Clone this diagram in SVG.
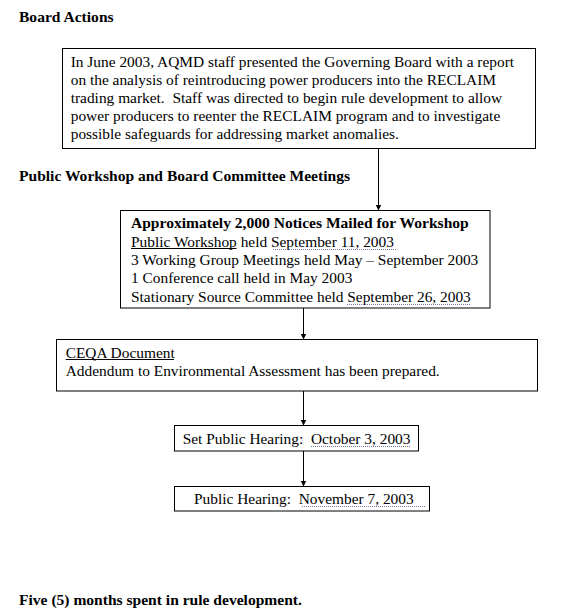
<svg xmlns="http://www.w3.org/2000/svg" width="563" height="613" viewBox="0 0 563 613">
<style>
text{font-family:"Liberation Serif","Times New Roman",serif;font-size:15.4px;fill:#000}
.b{font-weight:bold;font-size:15.55px}
.box{fill:#fff;stroke:#000;stroke-width:1}
.con{stroke:#000;stroke-width:1;fill:none}
.dot{stroke:#7878a8;stroke-width:1;stroke-dasharray:1 1;fill:none}
.ul{stroke:#000;stroke-width:1}
</style>
<defs>
<marker id="ah" markerUnits="userSpaceOnUse" markerWidth="7" markerHeight="7" refX="6" refY="3.5" orient="auto">
<path d="M0,0.5 L6,3.5 L0,6.5 z" fill="#000"/>
</marker>
</defs>
<rect width="563" height="613" fill="#fff"/>
<g id="headings">
<text class="b" x="19" y="22">Board Actions</text>
<text class="b" x="19" y="181">Public Workshop and Board Committee Meetings</text>
<text class="b" x="19" y="605">Five (5) months spent in rule development.</text>
</g>
<g id="connectors">
<line class="con" x1="378.5" y1="148.5" x2="378.5" y2="210.5" marker-end="url(#ah)"/>
<line class="con" x1="303.5" y1="308" x2="303.5" y2="339.5" marker-end="url(#ah)"/>
<line class="con" x1="303.5" y1="391" x2="303.5" y2="425.5" marker-end="url(#ah)"/>
<line class="con" x1="303.5" y1="451" x2="303.5" y2="486.5" marker-end="url(#ah)"/>
</g>
<g id="board-report">
<rect class="box" x="62.5" y="48.5" width="473" height="100"/>
<text x="70.7" y="67" xml:space="preserve">In June 2003, AQMD staff presented the Governing Board with a report</text>
<text x="70.7" y="85" xml:space="preserve">on the analysis of reintroducing power producers into the RECLAIM</text>
<text x="70.7" y="103" xml:space="preserve">trading market.  Staff was directed to begin rule development to allow</text>
<text x="70.7" y="121" xml:space="preserve">power producers to reenter the RECLAIM program and to investigate</text>
<text x="70.7" y="139" xml:space="preserve">possible safeguards for addressing market anomalies.</text>
</g>
<g id="workshop">
<rect class="box" x="120.5" y="210.5" width="369.5" height="97.5"/>
<text class="b" x="131" y="228">Approximately 2,000 Notices Mailed for Workshop</text>
<text x="131" y="246.5">Public Workshop held September 11, 2003</text>
<line class="ul" x1="131" y1="248.5" x2="236.5" y2="248.5"/>
<line class="dot" x1="273" y1="249.5" x2="396" y2="249.5"/>
<text x="131" y="265">3 Working Group Meetings held May – September 2003</text>
<text x="131" y="283">1 Conference call held in May 2003</text>
<text x="131" y="301.5">Stationary Source Committee held September 26, 2003</text>
<line class="dot" x1="347" y1="304.5" x2="471" y2="304.5"/>
</g>
<g id="ceqa">
<rect class="box" x="56.5" y="339.5" width="481" height="51.5"/>
<text x="65.7" y="357.5">CEQA Document</text>
<line class="ul" x1="65.7" y1="359.5" x2="174" y2="359.5"/>
<text x="65.7" y="376">Addendum to Environmental Assessment has been prepared.</text>
</g>
<g id="set-hearing">
<rect class="box" x="174.5" y="425.5" width="244" height="25.5"/>
<text x="182.7" y="444" xml:space="preserve">Set Public Hearing:  October 3, 2003</text>
<line class="dot" x1="311" y1="446.5" x2="411" y2="446.5"/>
</g>
<g id="public-hearing">
<rect class="box" x="174.5" y="486.5" width="255" height="24.5"/>
<text x="194" y="504" xml:space="preserve">Public Hearing:  November 7, 2003</text>
<line class="dot" x1="302" y1="506.5" x2="425" y2="506.5"/>
</g>
</svg>
